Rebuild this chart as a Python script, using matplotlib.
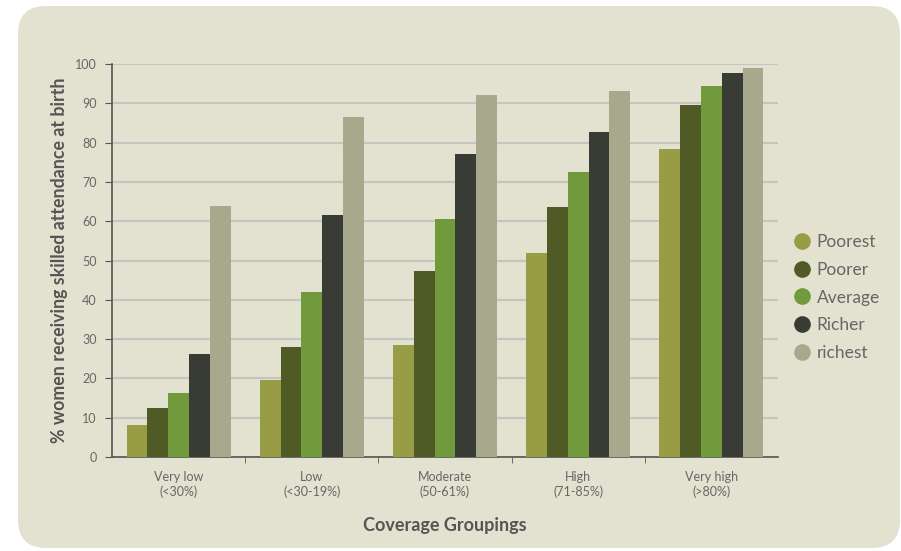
import numpy as np
import matplotlib
matplotlib.use("Agg")
import matplotlib.pyplot as plt
from matplotlib.patches import FancyBboxPatch
from matplotlib.lines import Line2D

groups = ["Very low\n(<30%)", "Low\n(<30-19%)", "Moderate\n(50-61%)", "High\n(71-85%)", "Very high\n(>80%)"]
series = ["Poorest", "Poorer", "Average", "Richer", "richest"]
poorest = [8.1, 19.6, 28.5, 51.9, 78.4]
poorer = [12.5, 28.0, 47.3, 63.6, 89.6]
average = [16.3, 42.0, 60.6, 72.5, 94.4]
richer = [26.2, 61.6, 77.1, 82.7, 97.7]
richest = [63.9, 86.5, 92.1, 93.1, 99.0]
values = [poorest, poorer, average, richer, richest]
colors = ["#989C45", "#4F5A25", "#719A3C", "#393C34", "#A8A88C"]

plt.rcParams['font.family'] = ['Lato', 'DejaVu Sans']
txt = "#666666"

fig = plt.figure(figsize=(9.01, 5.51), dpi=100)
fig.patch.set_facecolor("white")
bg = FancyBboxPatch((18, 3), 882, 542, boxstyle="round,pad=0,rounding_size=28",
                    transform=None, facecolor="#E3E2D0", edgecolor="none", zorder=-10)
fig.add_artist(bg)

ax = fig.add_axes([0.1243, 0.1706, 0.7392, 0.7132])
ax.set_facecolor("none")

x = np.arange(len(groups))
w = 0.156
for i, (name, vals, c) in enumerate(zip(series, values, colors)):
    ax.bar(x + (i - 2) * w, vals, width=w, color=c, label=name, zorder=3)

ax.set_xlim(-0.5, len(groups) - 0.5)
ax.set_ylim(0, 100)
ax.set_yticks(range(0, 101, 10))
ax.yaxis.grid(True, color="#C4C4C0", linewidth=1.5, zorder=0)
ax.set_axisbelow(True)

ax.set_xticks(x)
ax.set_xticklabels(groups, fontsize=9, color=txt, linespacing=1.2)
ax.tick_params(axis="x", length=0, pad=10)
ax.set_xticks(np.arange(0.5, len(groups) - 0.5), minor=True)
ax.tick_params(axis="x", which="minor", length=4, color="#555555", direction="out")
ax.tick_params(axis="y", length=5, color="#555555", labelsize=9, labelcolor=txt, pad=6)

for s in ["top", "right"]:
    ax.spines[s].set_visible(False)
for s in ["left", "bottom"]:
    ax.spines[s].set_color("#555555")
    ax.spines[s].set_linewidth(1.2)

ax.set_ylabel("% women receiving skilled attendance at birth", fontsize=12.8,
              fontweight="bold", color="#555555", labelpad=5)
ax.set_xlabel("Coverage Groupings", fontsize=13, fontweight="bold",
              color="#555555", labelpad=14)

handles = [Line2D([], [], marker="o", linestyle="none", markersize=12,
                  markerfacecolor=c, markeredgecolor="none") for c in colors]
fig.legend(handles, series, loc="center left", bbox_to_anchor=(0.863, 0.46),
           frameon=False, fontsize=12.5, labelcolor=txt, handletextpad=0.35,
           labelspacing=0.68, handlelength=1.0)

fig.savefig("out.png", dpi=100)
